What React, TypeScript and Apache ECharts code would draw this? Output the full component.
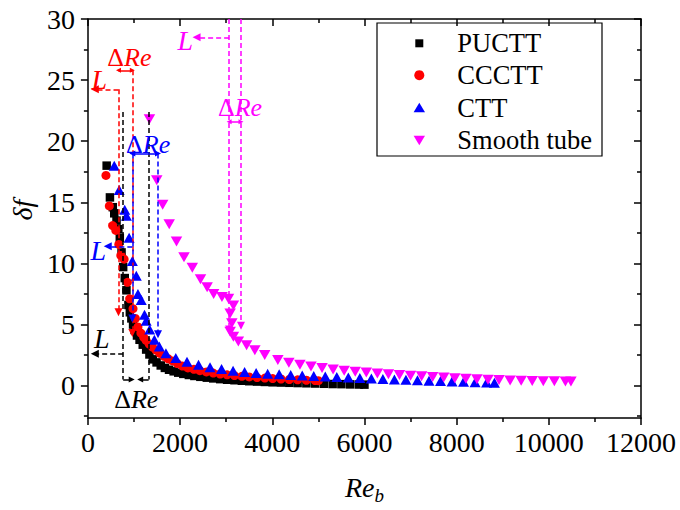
import React, { useEffect, useRef } from 'react';
import * as echarts from 'echarts';

const SERIF = 'Liberation Serif';

// ---- data: [Re_b, delta f] ----
const puctt: number[][] = [
  [407, 18.0], [478, 15.4], [540, 14.6], [572, 14.1], [621, 13.5], [660, 12.8], [692, 12.1], [730, 10.9],
  [765, 9.7], [800, 8.8], [836, 7.8], [879, 6.6], [910, 6.0], [943, 5.5], [980, 5.0], [1014, 4.55],
  [1065, 4.1], [1121, 3.75], [1190, 3.35], [1264, 2.95], [1335, 2.55], [1408, 2.15], [1490, 1.9],
  [1580, 1.65], [1670, 1.45], [1760, 1.3], [1860, 1.17], [1960, 1.06], [2070, 0.96], [2190, 0.87],
  [2310, 0.79], [2440, 0.72], [2580, 0.65], [2720, 0.59], [2870, 0.53], [3020, 0.48], [3180, 0.44],
  [3340, 0.4], [3500, 0.36], [3670, 0.33], [3840, 0.3], [4010, 0.27], [4190, 0.25], [4370, 0.23],
  [4550, 0.21], [4740, 0.19], [4930, 0.17], [5120, 0.15], [5310, 0.13], [5500, 0.12], [5690, 0.1],
  [5880, 0.09], [6000, 0.08],
];

const ccctt: number[][] = [
  [392, 17.2], [465, 14.7], [536, 13.1], [606, 12.7], [671, 11.55], [714, 10.65], [786, 10.35],
  [857, 8.45], [906, 7.1], [979, 6.3], [1030, 5.5], [1086, 4.8], [1150, 4.3], [1210, 3.95], [1264, 3.7],
  [1330, 3.4], [1400, 3.15], [1479, 2.9], [1560, 2.65], [1650, 2.4], [1740, 2.2], [1836, 2.02],
  [1940, 1.8], [2050, 1.6], [2170, 1.45], [2300, 1.33], [2430, 1.22], [2570, 1.12], [2720, 1.03],
  [2870, 0.95], [3020, 0.88], [3180, 0.82], [3340, 0.76], [3500, 0.71], [3670, 0.66], [3840, 0.62],
  [4010, 0.58], [4190, 0.54], [4370, 0.5], [4550, 0.47], [4740, 0.44], [4930, 0.41], [5000, 0.4],
];

const ctt: number[][] = [
  [572, 18.0], [679, 16.0], [799, 14.4], [836, 13.9], [894, 12.1], [964, 10.2], [1050, 9.0], [1086, 7.5],
  [1157, 7.0], [1228, 5.8], [1264, 5.3], [1340, 4.6], [1442, 3.75], [1549, 3.2], [1693, 2.65],
  [1907, 2.25], [2150, 1.95], [2400, 1.7], [2650, 1.5], [2900, 1.35], [3150, 1.22], [3400, 1.12],
  [3650, 1.04], [3900, 0.97], [4150, 0.92], [4400, 0.87], [4650, 0.83], [4900, 0.79], [5150, 0.75],
  [5400, 0.71], [5650, 0.67], [5900, 0.63], [6150, 0.59], [6400, 0.55], [6650, 0.51], [6900, 0.47],
  [7150, 0.43], [7400, 0.4], [7650, 0.37], [7900, 0.34], [8150, 0.31], [8400, 0.28], [8650, 0.25],
  [8820, 0.23],
];

const smoothTube: number[][] = [
  [1335, 21.8], [1494, 16.8], [1622, 14.8], [1764, 13.2], [1922, 11.8], [2085, 10.5], [2265, 9.65],
  [2443, 8.7], [2587, 8.05], [2728, 7.5], [2908, 7.25], [3050, 7.1], [3157, 6.55], [3086, 5.9],
  [3122, 5.1], [3086, 4.4], [3157, 4.0], [3264, 3.6], [3443, 3.3], [3622, 2.9], [3836, 2.5],
  [4121, 2.1], [4360, 1.88], [4600, 1.7], [4840, 1.56], [5080, 1.44], [5320, 1.32], [5560, 1.22],
  [5800, 1.14], [6040, 1.07], [6280, 1.0], [6520, 0.93], [6760, 0.87], [7000, 0.81], [7240, 0.76],
  [7480, 0.71], [7720, 0.66], [7960, 0.61], [8200, 0.57], [8440, 0.53], [8680, 0.49], [8920, 0.45],
  [9160, 0.42], [9400, 0.4], [9640, 0.38], [9880, 0.36], [10120, 0.35], [10360, 0.34], [10480, 0.33],
];

const seriesNames = ['PUCTT', 'CCCTT', 'CTT', 'Smooth tube'];
const seriesColors = ['#000000', '#ff0000', '#0000ff', '#ff00ff'];

// ---- axes ----
const xRange = [0, 12000];
const xStep = 2000;
const yRange = [-2.65, 30];
const yLabelValues = [0, 5, 10, 15, 20, 25, 30];
const yMinorValues = [-2.5, 2.5, 7.5, 12.5, 17.5, 22.5, 27.5];

// ---- annotations (data coordinates) ----
// dashed guides: [from, to, arrowAtEnd]
const redGuides: [number[], number[], boolean][] = [
  [[664, 24.25], [664, 6.0], true],
  [[964, 25.8], [964, 4.3], true],
  [[664, 24.25], [150, 24.25], true],
];
const redSpan = [[664, 25.8], [964, 25.8]];
const blackGuides: [number[], number[], boolean][] = [
  [[765, 22.4], [765, 0.5], false],
  [[1318, 22.4], [1318, 0.5], false],
  [[765, 2.6], [150, 2.6], true],
];
const blackInward = [[[765, 0.5], [950, 0.5]], [[1318, 0.5], [1135, 0.5]]];
const blueGuides: [number[], number[], boolean][] = [
  [[964, 19.0], [964, 5.5], true],
  [[1521, 19.0], [1521, 4.2], true],
  [[964, 11.4], [430, 11.4], true],
];
const blueSpan = [[964, 19.0], [1521, 19.0]];
const magentaGuides: [number[], number[], boolean][] = [
  [[3064, 30], [3064, 4.6], true],
  [[3321, 30], [3321, 4.9], true],
  [[3064, 28.5], [2357, 28.5], true],
];
const magentaSpan = [[3064, 21.6], [3321, 21.6]];

const annotationLabels: { kind: 'dre' | 'L'; at: number[]; color: string }[] = [
  { kind: 'dre', at: [900, 26.85], color: '#ff0000' },
  { kind: 'L', at: [246, 25.06], color: '#ff0000' },
  { kind: 'dre', at: [1050, -1.15], color: '#000000' },
  { kind: 'L', at: [300, 3.87], color: '#000000' },
  { kind: 'dre', at: [1307, 19.7], color: '#0000ff' },
  { kind: 'L', at: [225, 11.08], color: '#0000ff' },
  { kind: 'dre', at: [3300, 22.75], color: '#ff00ff' },
  { kind: 'L', at: [2111, 28.2], color: '#ff00ff' },
];

function guideItems(guides: [number[], number[], boolean][]) {
  return guides.map(([a, b, arrow]) => [
    { coord: a, symbol: 'none' },
    { coord: b, symbol: arrow ? 'triangle' : 'none', symbolSize: 8 },
  ]);
}
function spanItem(span: number[][], size: number) {
  return [
    { coord: span[0], symbol: 'triangle', symbolSize: size, lineStyle: { type: 'solid' } },
    { coord: span[1], symbol: 'triangle', symbolSize: size },
  ];
}
function markLine(color: string, data: any[]) {
  return {
    silent: true,
    symbol: ['none', 'none'],
    label: { show: false },
    emphasis: { disabled: true },
    lineStyle: { color, width: 1.5, type: [5, 3] },
    data,
    animation: false,
  };
}

const axisLineStyle = { color: '#000', width: 1.5 };

function xAxisBase(position: 'bottom' | 'top') {
  const bottom = position === 'bottom';
  return {
    type: 'value',
    position,
    min: xRange[0],
    max: xRange[1],
    interval: xStep,
    axisLine: { show: true, onZero: false, lineStyle: axisLineStyle },
    axisTick: { show: true, inside: !bottom, length: 7, lineStyle: axisLineStyle },
    minorTick: { show: true, splitNumber: 2, length: 4, lineStyle: axisLineStyle },
    splitLine: { show: false },
    minorSplitLine: { show: false },
    axisLabel: {
      show: bottom,
      fontFamily: SERIF,
      fontSize: 28,
      color: '#000',
      margin: 10,
      formatter: (v: number) => String(v),
    },
  };
}

function yAxisBase(position: 'left' | 'right', minor: boolean) {
  const left = position === 'left';
  return {
    type: 'value',
    position,
    min: yRange[0],
    max: yRange[1],
    axisLine: { show: !minor, onZero: false, lineStyle: axisLineStyle },
    axisTick: {
      show: true,
      inside: !left,
      length: minor ? 4 : 7,
      customValues: minor ? yMinorValues : yLabelValues,
      lineStyle: axisLineStyle,
    },
    splitLine: { show: false },
    axisLabel: {
      show: left && !minor,
      customValues: yLabelValues,
      fontFamily: SERIF,
      fontSize: 28,
      color: '#000',
      margin: 13,
      formatter: (v: number) => String(v),
    },
  };
}

const option: any = {
  animation: false,
  backgroundColor: '#fff',
  textStyle: { fontFamily: SERIF },
  grid: { left: 81, top: 19, width: 560, height: 403, containLabel: false },
  xAxis: [
    {
      ...xAxisBase('bottom'),
      name: '{r|Re}{s|b}',
      nameLocation: 'middle',
      nameGap: 51,
      nameTextStyle: {
        fontFamily: SERIF,
        rich: {
          r: { fontFamily: SERIF, fontSize: 28, fontStyle: 'italic', color: '#000' },
          s: { fontFamily: SERIF, fontSize: 19, fontStyle: 'italic', color: '#000', padding: [17, 0, 0, 0] },
        },
      },
    },
    xAxisBase('top'),
  ],
  yAxis: [
    {
      ...yAxisBase('left', false),
      name: 'δf',
      nameLocation: 'middle',
      nameGap: 48,
      nameTextStyle: { fontFamily: SERIF, fontSize: 28, fontStyle: 'italic', color: '#000', padding: [0, 0, 0, 17] },
    },
    yAxisBase('right', false),
    yAxisBase('left', true),
    yAxisBase('right', true),
  ],
  series: [
    {
      type: 'scatter',
      name: seriesNames[0],
      data: puctt,
      symbol: 'rect',
      symbolSize: 8.5,
      itemStyle: { color: seriesColors[0], opacity: 1 },
      markLine: markLine(seriesColors[0], [
        ...guideItems(blackGuides),
        ...blackInward.map((s) => [
          { coord: s[0], symbol: 'none', lineStyle: { type: 'solid' } },
          { coord: s[1], symbol: 'triangle', symbolSize: 6 },
        ]),
      ]),
    },
    {
      type: 'scatter',
      name: seriesNames[1],
      data: ccctt,
      symbol: 'circle',
      symbolSize: 9,
      itemStyle: { color: seriesColors[1], opacity: 1 },
      markLine: markLine(seriesColors[1], [...guideItems(redGuides), spanItem(redSpan, 5)]),
    },
    {
      type: 'scatter',
      name: seriesNames[2],
      data: ctt,
      symbol: 'triangle',
      symbolSize: [11, 10],
      itemStyle: { color: seriesColors[2], opacity: 1 },
      markLine: markLine(seriesColors[2], [...guideItems(blueGuides), spanItem(blueSpan, 6)]),
    },
    {
      type: 'scatter',
      name: seriesNames[3],
      data: smoothTube,
      symbol: 'triangle',
      symbolRotate: 180,
      symbolSize: [11.5, 10],
      itemStyle: { color: seriesColors[3], opacity: 1 },
      markLine: markLine(seriesColors[3], [...guideItems(magentaGuides), spanItem(magentaSpan, 5)]),
    },
  ],
};

function legendGraphic() {
  const boxX = 377, boxY = 23, boxW = 225, boxH = 133;
  const mx = 419.3, tx = 457.3;
  const rows = [43.3, 75.2, 107.7, 140.2];
  const children: any[] = [
    {
      type: 'rect',
      shape: { x: boxX, y: boxY, width: boxW, height: boxH },
      style: { fill: '#fff', stroke: '#000', lineWidth: 1.2 },
    },
    { type: 'rect', shape: { x: mx - 4, y: rows[0] - 4, width: 8, height: 8 }, style: { fill: seriesColors[0] } },
    { type: 'circle', shape: { cx: mx, cy: rows[1], r: 5 }, style: { fill: seriesColors[1] } },
    {
      type: 'polygon',
      shape: { points: [[mx, rows[2] - 5], [mx + 5.7, rows[2] + 4.5], [mx - 5.7, rows[2] + 4.5]] },
      style: { fill: seriesColors[2] },
    },
    {
      type: 'polygon',
      shape: { points: [[mx - 5.7, rows[3] - 4.5], [mx + 5.7, rows[3] - 4.5], [mx, rows[3] + 5]] },
      style: { fill: seriesColors[3] },
    },
  ];
  seriesNames.forEach((n, i) => {
    children.push({
      type: 'text',
      x: tx,
      y: rows[i],
      style: {
        text: n,
        fill: '#000',
        fontFamily: SERIF,
        fontSize: 26.5,
        align: 'left',
        verticalAlign: 'middle',
      },
    });
  });
  return { type: 'group', z: 100, silent: true, children };
}

export default function App() {
  const ref = useRef<HTMLDivElement>(null);
  useEffect(() => {
    if (!ref.current) return;
    const chart = echarts.init(ref.current, null, { renderer: 'svg' });
    chart.setOption(option);
    const labels = annotationLabels.map((a) => {
      const p = chart.convertToPixel({ xAxisIndex: 0, yAxisIndex: 0 }, a.at) as number[];
      if (a.kind === 'dre') {
        return {
          type: 'text',
          x: p[0],
          y: p[1],
          z: 100,
          silent: true,
          style: {
            text: '{a|Δ}{b|Re}',
            align: 'center',
            verticalAlign: 'middle',
            fill: a.color,
            fontFamily: SERIF,
            fontSize: 26,
            rich: {
              a: { fontFamily: SERIF, fontSize: 26, fill: a.color },
              b: { fontFamily: SERIF, fontSize: 26, fontStyle: 'italic', fill: a.color },
            },
          },
        };
      }
      return {
        type: 'text',
        x: p[0],
        y: p[1],
        z: 100,
        silent: true,
        style: {
          text: 'L',
          align: 'center',
          verticalAlign: 'middle',
          fill: a.color,
          fontFamily: SERIF,
          fontSize: 28,
          fontStyle: 'italic',
        },
      };
    });
    chart.setOption({ graphic: [legendGraphic(), ...labels] });
    return () => chart.dispose();
  }, []);
  return (
    <div
      ref={ref}
      style={{ position: 'fixed', left: 0, top: 0, width: 680, height: 510, background: '#fff' }}
    />
  );
}
